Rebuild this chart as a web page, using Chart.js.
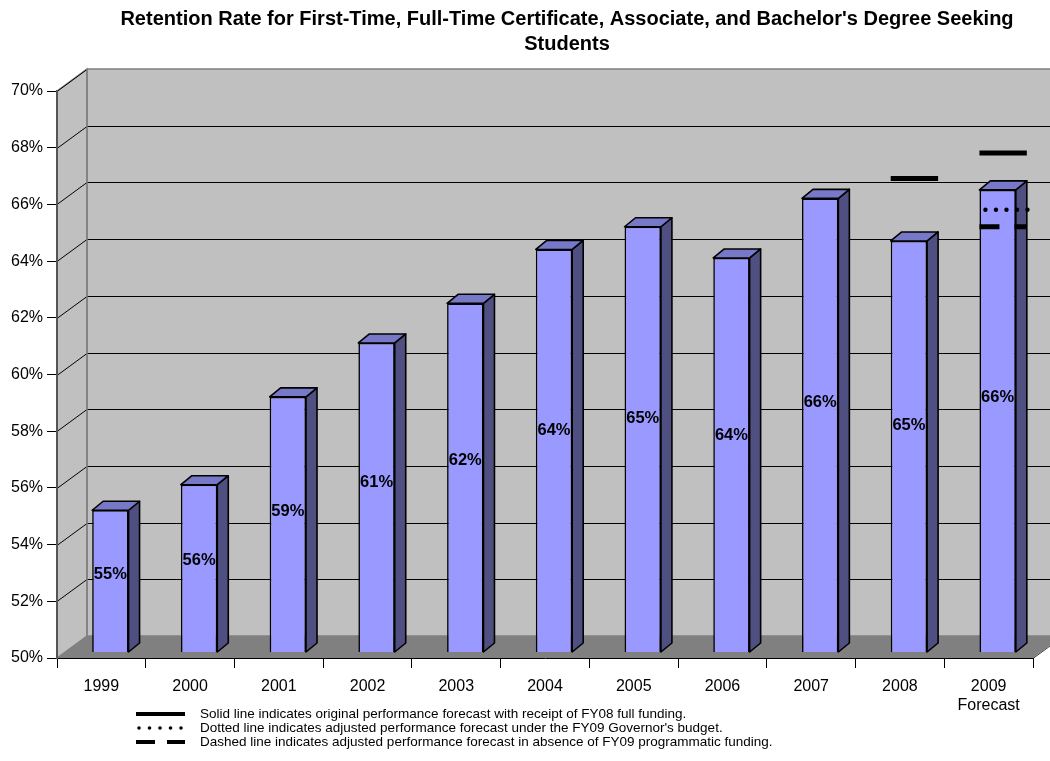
<!DOCTYPE html>
<html>
<head>
<meta charset="utf-8">
<script src="https://cdn.jsdelivr.net/npm/chart.js@4"></script>
<style>
  html, body { margin: 0; padding: 0; background: #fff; }
  #wrap { width: 1050px; height: 761px; }
</style>
</head>
<body>
<div id="wrap"><canvas id="chart" width="1050" height="761"></canvas></div>
<script>
const years = ['1999', '2000', '2001', '2002', '2003', '2004', '2005', '2006', '2007', '2008', ['2009', 'Forecast']];
const retention = [55.0, 55.9, 59.0, 60.9, 62.3, 64.2, 65.0, 63.9, 66.0, 64.5, 66.3];
const forecastFull = [null, null, null, null, null, null, null, null, null, 66.7, 67.6];
const forecastGovernor = [null, null, null, null, null, null, null, null, null, null, 65.6];
const forecastNoFunding = [null, null, null, null, null, null, null, null, null, null, 65.0];
const yTicks = [50, 52, 54, 56, 58, 60, 62, 64, 66, 68, 70];
const titleLines = ["Retention Rate for First-Time, Full-Time Certificate, Associate, and Bachelor's Degree Seeking", 'Students'];
const legendNotes = [
    'Solid line indicates original performance forecast with receipt of FY08 full funding.',
    'Dotted line indicates adjusted performance forecast under the FY09 Governor\'s budget.',
    'Dashed line indicates adjusted performance forecast in absence of FY09 programmatic funding.'
];

const FONT = "'Liberation Sans', Arial, sans-serif";
// 3d offsets: bars sit a bit behind the front axis, back wall further still
const BAR_DX = 9, BAR_DY = -6;
const SIDE_DX = 11, SIDE_DY = -9;
const WALL_DX = 30, WALL_DY = -22;

const wallsPlugin = {
    id: 'walls',
    beforeDraw(chart) {
        const ctx = chart.ctx;
        const a = chart.chartArea;
        const y = chart.scales.y;
        ctx.save();
        // back wall
        ctx.fillStyle = '#c0c0c0';
        ctx.fillRect(a.left + WALL_DX, a.top + WALL_DY, 1100, a.bottom - a.top);
        // left wall
        ctx.beginPath();
        ctx.moveTo(a.left, a.top);
        ctx.lineTo(a.left + WALL_DX, a.top + WALL_DY);
        ctx.lineTo(a.left + WALL_DX, a.bottom + WALL_DY);
        ctx.lineTo(a.left, a.bottom);
        ctx.closePath();
        ctx.fill();
        ctx.strokeStyle = '#808080';
        ctx.lineWidth = 1.5;
        ctx.stroke();
        // floor
        ctx.fillStyle = '#808080';
        ctx.beginPath();
        ctx.moveTo(a.left, a.bottom);
        ctx.lineTo(a.right, a.bottom);
        ctx.lineTo(a.right + WALL_DX, a.bottom + WALL_DY);
        ctx.lineTo(a.left + WALL_DX, a.bottom + WALL_DY);
        ctx.closePath();
        ctx.fill();
        ctx.strokeStyle = '#404040';
        ctx.lineWidth = 1;
        ctx.beginPath();
        ctx.moveTo(a.right, a.bottom + 0.5);
        ctx.lineTo(a.right + WALL_DX, a.bottom + WALL_DY + 0.5);
        ctx.stroke();
        // gridlines
        ctx.strokeStyle = '#000';
        ctx.lineWidth = 1;
        yTicks.forEach(v => {
            if (v === 50) return;
            const py = Math.round(y.getPixelForValue(v)) + 0.5;
            ctx.beginPath();
            ctx.moveTo(a.left, py);
            ctx.lineTo(a.left + WALL_DX, py + WALL_DY);
            if (v !== 70) ctx.lineTo(1100, py + WALL_DY);
            ctx.stroke();
        });
        // wall edge
        ctx.strokeStyle = '#808080';
        ctx.lineWidth = 1.5;
        ctx.beginPath();
        ctx.moveTo(a.left + WALL_DX, a.top + WALL_DY);
        ctx.lineTo(a.left + WALL_DX, a.bottom + WALL_DY);
        ctx.lineTo(1100, a.bottom + WALL_DY);
        ctx.moveTo(a.left + WALL_DX, a.top + WALL_DY);
        ctx.lineTo(1100, a.top + WALL_DY);
        ctx.stroke();
        ctx.restore();
    },
    beforeDatasetsDraw(chart) {
        chart.ctx.save();
        chart.ctx.translate(BAR_DX, BAR_DY);
    },
    afterDatasetsDraw(chart) {
        const ctx = chart.ctx;
        const y = chart.scales.y;
        const base = y.getPixelForValue(50);
        const bars = chart.getDatasetMeta(0).data.map(el => el.getProps(['x', 'y', 'width']));
        // side and top faces
        bars.forEach(b => {
            const l = b.x - b.width / 2, r = b.x + b.width / 2;
            ctx.lineWidth = 1.6;
            ctx.lineJoin = 'round';
            ctx.strokeStyle = '#000';
            ctx.fillStyle = '#4f4f82';
            ctx.beginPath();
            ctx.moveTo(r, base);
            ctx.lineTo(r + SIDE_DX, base + SIDE_DY);
            ctx.lineTo(r + SIDE_DX, b.y + SIDE_DY);
            ctx.lineTo(r, b.y);
            ctx.closePath();
            ctx.fill();
            ctx.stroke();
            ctx.fillStyle = '#7878c8';
            ctx.beginPath();
            ctx.moveTo(l, b.y);
            ctx.lineTo(l + SIDE_DX, b.y + SIDE_DY);
            ctx.lineTo(r + SIDE_DX, b.y + SIDE_DY);
            ctx.lineTo(r, b.y);
            ctx.closePath();
            ctx.fill();
            ctx.stroke();
        });
        // value labels
        ctx.fillStyle = '#000';
        ctx.font = 'bold 16.5px ' + FONT;
        ctx.textAlign = 'center';
        ctx.textBaseline = 'middle';
        bars.forEach((b, i) => {
            const ly = base + 0.55 * (b.y - base);
            ctx.fillText(Math.round(retention[i]) + '%', b.x, ly);
        });
        // forecast marks
        ctx.strokeStyle = '#000';
        ctx.lineWidth = 5;
        const span = b => [b.x - b.width / 2, b.x + b.width / 2 + SIDE_DX];
        forecastFull.forEach((v, i) => {
            if (v == null) return;
            const [l, r] = span(bars[i]);
            const py = y.getPixelForValue(v);
            ctx.beginPath();
            ctx.moveTo(l, py);
            ctx.lineTo(r, py);
            ctx.stroke();
        });
        forecastNoFunding.forEach((v, i) => {
            if (v == null) return;
            const [l, r] = span(bars[i]);
            const py = y.getPixelForValue(v);
            ctx.setLineDash([20, 15]);
            ctx.beginPath();
            ctx.moveTo(l, py);
            ctx.lineTo(r, py);
            ctx.stroke();
            ctx.setLineDash([]);
        });
        forecastGovernor.forEach((v, i) => {
            if (v == null) return;
            const [l, r] = span(bars[i]);
            const py = y.getPixelForValue(v);
            ctx.fillStyle = '#000';
            for (let x = l + 6; x <= r + 1; x += 10.5) {
                ctx.beginPath();
                ctx.arc(x, py, 2.2, 0, Math.PI * 2);
                ctx.fill();
            }
        });
        ctx.restore();
    },
    afterDraw(chart) {
        const ctx = chart.ctx;
        ctx.save();
        // title
        ctx.fillStyle = '#000';
        ctx.font = 'bold 20px ' + FONT;
        ctx.textAlign = 'center';
        ctx.textBaseline = 'middle';
        ctx.fillText(titleLines[0], 567, 19);
        ctx.fillText(titleLines[1], 567, 44);
        // legend notes
        ctx.font = '13.5px ' + FONT;
        ctx.textAlign = 'left';
        const rows = [714, 728, 742];
        legendNotes.forEach((t, i) => ctx.fillText(t, 200, rows[i]));
        ctx.lineWidth = 4;
        ctx.beginPath();
        ctx.moveTo(136, rows[0]);
        ctx.lineTo(185, rows[0]);
        ctx.stroke();
        for (let i = 0; i < 5; i++) {
            ctx.beginPath();
            ctx.arc(139 + i * 10.5, rows[1], 1.8, 0, Math.PI * 2);
            ctx.fill();
        }
        ctx.beginPath();
        ctx.moveTo(136, rows[2]);
        ctx.lineTo(155, rows[2]);
        ctx.moveTo(167, rows[2]);
        ctx.lineTo(185, rows[2]);
        ctx.stroke();
        ctx.restore();
    }
};

new Chart(document.getElementById('chart'), {
    type: 'bar',
    data: {
        labels: years,
        datasets: [{
            label: 'Retention Rate',
            data: retention,
            backgroundColor: '#9999ff',
            borderColor: '#000',
            borderWidth: 1.6,
            borderSkipped: false,
            categoryPercentage: 1,
            barPercentage: 0.41
        }]
    },
    options: {
        responsive: false,
        animation: false,
        devicePixelRatio: 1,
        layout: { padding: { top: 91, right: 17, left: 0, bottom: 0 } },
        plugins: {
            legend: { display: false },
            title: { display: false },
            tooltip: { enabled: false }
        },
        scales: {
            x: {
                grid: { offset: true, drawOnChartArea: false, drawTicks: true, tickLength: 10, color: '#000' },
                border: { color: '#000', width: 1 },
                ticks: { color: '#000', padding: 9, font: { family: FONT, size: 16 }, maxRotation: 0, autoSkip: false },
                afterFit(scale) { scale.height = 103; }
            },
            y: {
                min: 50,
                max: 70,
                grid: { drawOnChartArea: false, drawTicks: true, tickLength: 10, color: '#000' },
                border: { color: '#555', width: 2 },
                ticks: {
                    stepSize: 2,
                    color: '#000',
                    padding: 4,
                    font: { family: FONT, size: 16 },
                    callback: v => v + '%'
                },
                afterFit(scale) { scale.width = 57; }
            }
        }
    },
    plugins: [wallsPlugin]
});
</script>
</body>
</html>
